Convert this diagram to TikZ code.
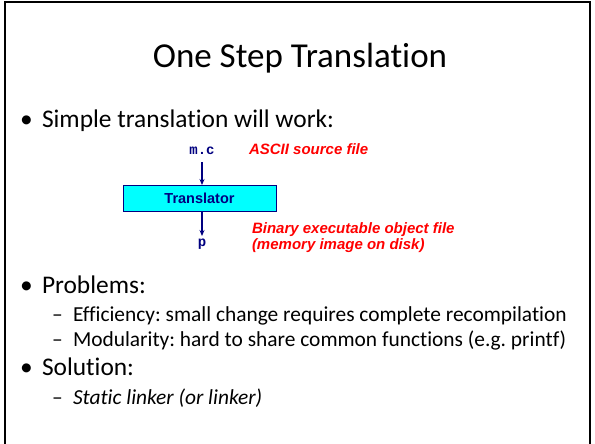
\documentclass[tikz,border=0pt]{standalone}
\usepackage{fontspec}
\setmainfont[Ligatures=NoCommon]{Carlito}
\newfontfamily\arialfont{Liberation Sans}
\newfontfamily\courierfont{Liberation Mono}
\usetikzlibrary{arrows.meta}
\definecolor{navyblue}{RGB}{0,0,128}
\definecolor{boxcyan}{RGB}{0,255,255}
\definecolor{labelred}{RGB}{255,0,0}
\frenchspacing
\begin{document}
\begin{tikzpicture}[x=1pt,y=-1pt,
  every node/.style={inner sep=0pt,outer sep=0pt},
  title/.style={anchor=base,font=\fontsize{35}{38}\selectfont},
  lvlone/.style={anchor=base west,font=\fontsize{25.4}{28}\selectfont},
  lvltwo/.style={anchor=base west,font=\fontsize{21.4}{24}\selectfont},
  fname/.style={anchor=base,font=\courierfont\bfseries\fontsize{14}{16}\selectfont,text=navyblue},
  note/.style={anchor=base west,font=\arialfont\bfseries\itshape\fontsize{15}{17}\selectfont,text=labelred},
  stage/.style={draw=navyblue,fill=boxcyan,line width=1pt,minimum width=153pt,minimum height=26pt,
    font=\arialfont\bfseries\fontsize{14.5}{16}\selectfont,text=navyblue},
  flow/.style={draw=navyblue,line width=1.2pt,-{Stealth[length=6pt,width=5pt]}}]
\useasboundingbox (0,0) rectangle (595,444);
\fill[white] (0,0) rectangle (595,444);
% slide frame
\draw[line width=2pt] (5,444) -- (5,2) -- (590,2) -- (590,444);

% title
\node[title] (ttl) at (300,68) {One Step Translation};

% first bullet
\node[lvlone] (b1) at (20,128) {\textbullet};
\node[lvlone] (t1) at (42,128) {Simple translation will work:};

% translation diagram
\node[fname] (src) at (202,154) {m.c};
\node[stage] (tr) at (199.5,198) {Translator};
\node[fname] (out) at (202,246) {p};
\node[note] (srcnote) at (249,154) {ASCII source file};
\node[note] (outnote1) at (252,233) {Binary executable object file};
\node[note] (outnote2) at (252,249) {(memory image on disk)};
\coordinate (srcbot) at (202,162);
\coordinate (outtop) at (202,236);
\draw[flow] (srcbot) -- (202,185);
\draw[flow] (202,211) -- (outtop);

% problems
\node[lvlone] (b2) at (20,293) {\textbullet};
\node[lvlone] (t2) at (42,293) {Problems:};
\node[lvltwo] (d1) at (52,321) {–};
\node[lvltwo] (t3) at (73,321) {Efficiency: small change requires complete recompilation};
\node[lvltwo] (d2) at (52,346) {–};
\node[lvltwo] (t4) at (73,346) {Modularity: hard to share common functions (e.g. printf)};

% solution
\node[lvlone] (b3) at (20,375) {\textbullet};
\node[lvlone] (t5) at (42,375) {Solution:};
\node[lvltwo] (d3) at (52,404) {–};
\node[lvltwo] (t6) at (73,404) {\itshape Static linker (or linker)};
\end{tikzpicture}
\end{document}
